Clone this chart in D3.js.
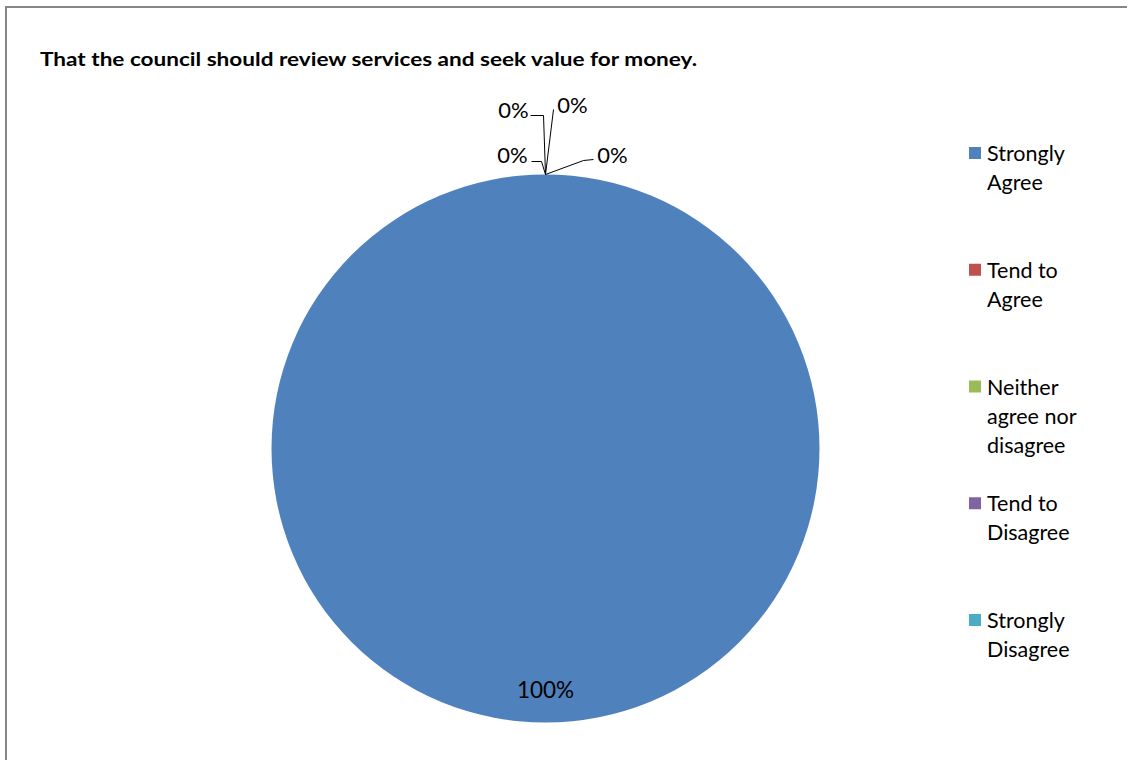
<!DOCTYPE html>
<html>
<head>
<meta charset="utf-8">
<script src="https://cdn.jsdelivr.net/npm/d3@7"></script>
<style>
  html, body { margin: 0; padding: 0; background: #fff; }
  svg { display: block; }
  text { font-family: Lato, "Open Sans", "Liberation Sans", sans-serif; fill: #000; }
</style>
</head>
<body>
<svg id="chart" width="1128" height="760"></svg>
<script>
// Survey responses for the statement
const title = "That the council should review services and seek value for money.";
const categories = ["Strongly Agree", "Tend to Agree", "Neither agree nor disagree", "Tend to Disagree", "Strongly Disagree"];
const legendLines = [["Strongly", "Agree"], ["Tend to", "Agree"], ["Neither", "agree nor", "disagree"], ["Tend to", "Disagree"], ["Strongly", "Disagree"]];
const percentages = [100, 0, 0, 0, 0];
const colors = ["#4F81BD", "#C0504D", "#9BBB59", "#8064A2", "#4BACC6"];

const svg = d3.select("#chart");
const W = 1128, H = 760;

// Outer chart frame (top and left edges visible)
svg.append("path")
  .attr("d", `M6,${H} L6,7 L${W - 1},7`)
  .attr("fill", "none")
  .attr("stroke", "#868686")
  .attr("stroke-width", 2);

// Title
svg.append("text")
  .attr("x", 40).attr("y", 66)
  .attr("font-size", 18).attr("font-weight", "bold")
  .attr("textLength", 657).attr("lengthAdjust", "spacingAndGlyphs")
  .text(title);

// Pie
const cx = 545.5, cy = 448.5, r = 274;
const g = svg.append("g").attr("transform", `translate(${cx},${cy})`);
const pie = d3.pie().sort(null).value(d => d)(percentages);
const arc = d3.arc().innerRadius(0).outerRadius(r);
const labelArc = d3.arc().innerRadius(r * 0.88).outerRadius(r * 0.88);
const edgeArc = d3.arc().innerRadius(r).outerRadius(r);

g.selectAll("path.slice")
  .data(pie)
  .join("path")
  .attr("class", "slice")
  .attr("d", arc)
  .attr("fill", (d, i) => colors[i]);

// Label placement for slices too thin to hold their label: offsets from the slice edge
const leaderOffsets = [
  null,
  { text: [-32, -65], anchor: "middle", line: [[-15, -59], [-2, -59], [0, 0]] },
  { text: [27, -70], anchor: "middle", line: [[8, -65], [0, 0]] },
  { text: [-33, -20], anchor: "middle", line: [[-14, -13], [-4, -13], [0, 0]] },
  { text: [67, -20], anchor: "middle", line: [[48, -15], [38, -14], [0, 0]] }
];

pie.forEach((d, i) => {
  const label = d.data + "%";
  if (d.endAngle - d.startAngle > 0.3) {
    const [x, y] = labelArc.centroid(d);
    g.append("text")
      .attr("x", x).attr("y", y)
      .attr("text-anchor", "middle").attr("dominant-baseline", "central")
      .attr("font-size", 22.5)
      .text(label);
  } else {
    const [ex, ey] = edgeArc.centroid(d);
    const o = leaderOffsets[i];
    g.append("path")
      .attr("d", d3.line()(o.line.map(p => [ex + p[0], ey + p[1]])))
      .attr("fill", "none").attr("stroke", "#000").attr("stroke-width", 1);
    g.append("text")
      .attr("x", ex + o.text[0]).attr("y", ey + o.text[1])
      .attr("text-anchor", o.anchor).attr("dominant-baseline", "central")
      .attr("font-size", 22)
      .text(label);
  }
});

// Legend
const legendY = d3.scalePoint().domain(categories).range([153, 620]);
const leg = svg.append("g");
categories.forEach((c, i) => {
  const y = legendY(c);
  leg.append("rect")
    .attr("x", 969).attr("y", y - 6)
    .attr("width", 12).attr("height", 12)
    .attr("fill", colors[i]);
  const t = leg.append("text")
    .attr("x", 987).attr("y", y)
    .attr("font-size", 21.5);
  legendLines[i].forEach((ln, j) => {
    t.append("tspan")
      .attr("x", 987).attr("y", y + j * 29)
      .attr("dominant-baseline", "central")
      .text(ln);
  });
});
</script>
</body>
</html>
